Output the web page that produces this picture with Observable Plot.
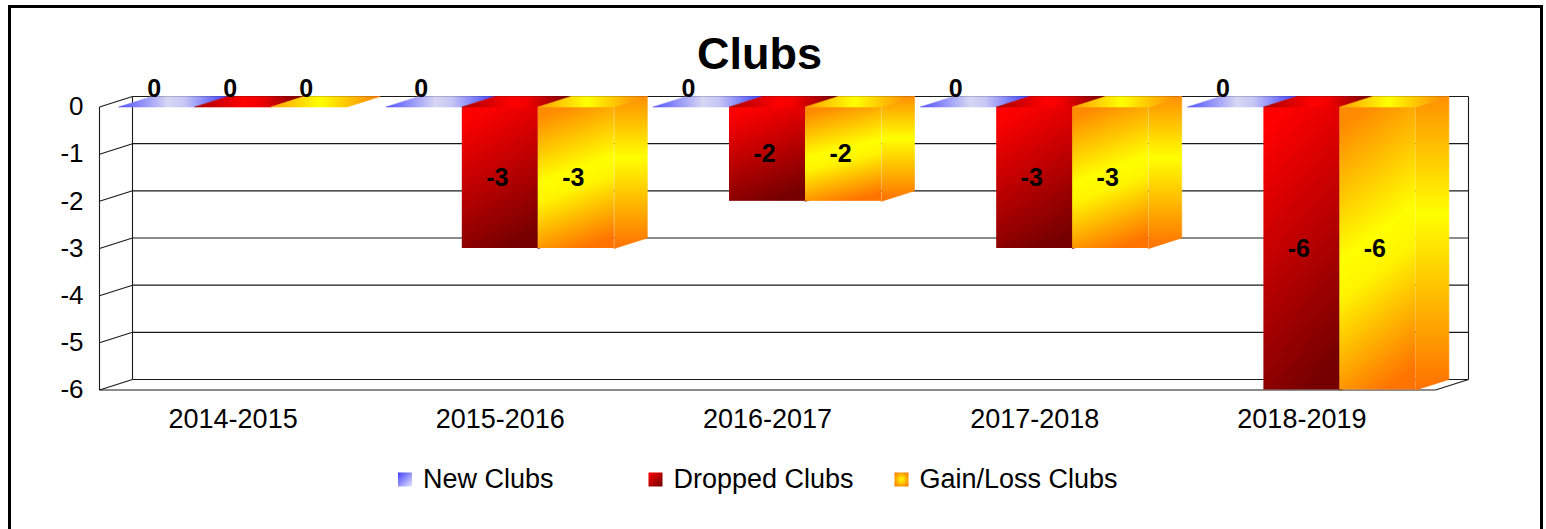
<!DOCTYPE html>
<html><head><meta charset="utf-8">
<script src="https://cdn.jsdelivr.net/npm/d3@7"></script>
<script src="https://cdn.jsdelivr.net/npm/@observablehq/plot@0.6"></script>
<style>
html,body{margin:0;padding:0;background:#fff;overflow:hidden}
#wrap{position:relative;width:1546px;height:529px}
#border{position:absolute;left:8px;top:5px;width:1535px;height:560px;border:3px solid #000;box-sizing:border-box;pointer-events:none}
#chart{position:absolute;left:0;top:0}
</style></head>
<body>
<svg width="0" height="0" style="position:absolute">
<defs>
<linearGradient id="gBlueTop" x1="0" y1="0" x2="1" y2="0">
 <stop offset="0" stop-color="#5252ff"/><stop offset="0.45" stop-color="#d6d6f4"/><stop offset="0.6" stop-color="#c6c6f6"/><stop offset="1" stop-color="#3c3cff"/>
</linearGradient>
<linearGradient id="gRedTop" x1="0" y1="0" x2="1" y2="0">
 <stop offset="0" stop-color="#a80000"/><stop offset="0.45" stop-color="#ff0000"/><stop offset="0.6" stop-color="#f00000"/><stop offset="1" stop-color="#780000"/>
</linearGradient>
<linearGradient id="gRedFront" x1="0.3" y1="0" x2="0.6" y2="1">
 <stop offset="0" stop-color="#ff0000"/><stop offset="1" stop-color="#760000"/>
</linearGradient>
<linearGradient id="gRedSide" x1="0" y1="0" x2="0" y2="1">
 <stop offset="0" stop-color="#c00000"/><stop offset="1" stop-color="#600000"/>
</linearGradient>
<linearGradient id="gYelFront" x1="0.4" y1="0" x2="0.6" y2="1">
 <stop offset="0" stop-color="#ff8c00"/><stop offset="0.45" stop-color="#ffff00"/><stop offset="0.58" stop-color="#fff400"/><stop offset="1" stop-color="#ff7400"/>
</linearGradient>
<linearGradient id="gYelSide" x1="0" y1="0" x2="0" y2="1">
 <stop offset="0" stop-color="#ff9000"/><stop offset="0.4" stop-color="#ffff00"/><stop offset="1" stop-color="#ff7000"/>
</linearGradient>
<linearGradient id="gYelTop" x1="0" y1="0" x2="1" y2="0">
 <stop offset="0" stop-color="#ffa000"/><stop offset="0.45" stop-color="#ffff00"/><stop offset="1" stop-color="#ff8000"/>
</linearGradient>
<linearGradient id="gBlueLeg" x1="0" y1="0" x2="1" y2="1">
 <stop offset="0" stop-color="#4040ff"/><stop offset="1" stop-color="#e4e4f8"/>
</linearGradient>
<linearGradient id="gRedLeg" x1="0" y1="0" x2="1" y2="1">
 <stop offset="0" stop-color="#ff0000"/><stop offset="1" stop-color="#700000"/>
</linearGradient>
<radialGradient id="gYelLeg" cx="0.5" cy="0.5" r="0.6">
 <stop offset="0" stop-color="#ffff00"/><stop offset="1" stop-color="#ff8000"/>
</radialGradient>
</defs>
</svg>
<div id="wrap"><div id="chart"></div><div id="border"></div></div>
<script>
// ---- data ----
const seasons = ["2014-2015", "2015-2016", "2016-2017", "2017-2018", "2018-2019"];
const newClubs = [0, 0, 0, 0, 0];
const droppedClubs = [0, -3, -2, -3, -6];
const gainLossClubs = [0, -3, -2, -3, -6];
const seriesNames = ["New Clubs", "Dropped Clubs", "Gain/Loss Clubs"];
const yTicks = [0, -1, -2, -3, -4, -5, -6];

// ---- layout ----
const seriesValues = [newClubs, droppedClubs, gainLossClubs];
const frontFill = ["url(#gBlueTop)", "url(#gRedFront)", "url(#gYelFront)"];
const topFill = ["url(#gBlueTop)", "url(#gRedTop)", "url(#gYelTop)"];
const sideFill = ["url(#gBlueTop)", "url(#gRedSide)", "url(#gYelSide)"];
const legendFill = ["url(#gBlueLeg)", "url(#gRedLeg)", "url(#gYelLeg)"];
const legendDx = [305.5, 556, 802];

const W = 1546, H = 529, mL = 99, mR = 111, mT = 106.5, mB = 139.5;
const X0 = -0.5, X1 = seasons.length - 0.5;
const Ymax = d3.max(yTicks), Ymin = d3.min(yTicks);
const pxPerX = (W - mL - mR) / (X1 - X0);
const pxPerY = (H - mT - mB) / (Ymax - Ymin);
const DX = 33 / pxPerX, DY = 10.5 / pxPerY;
const BW = 76 / pxPerX;

const rows = seasons.flatMap((s, i) => seriesValues.map((vals, k) => ({
  season: s, i, k, series: seriesNames[k], value: vals[i],
  x1: i + (k - 1.5) * BW, x2: i + (k - 0.5) * BW
})));

const poly = (pts, id) => pts.map(([x, y]) => ({x, y, id}));
const topPts = k => rows.filter(d => d.k === k).flatMap(d =>
  poly([[d.x1, 0], [d.x2, 0], [d.x2 + DX, DY], [d.x1 + DX, DY]], d.season));
const sidePts = k => rows.filter(d => d.k === k && d.value < 0).flatMap(d =>
  poly([[d.x2, 0], [d.x2 + DX, DY], [d.x2 + DX, d.value + DY], [d.x2, d.value]], d.season));
const face = (pts, fill) => Plot.line(pts, {x: "x", y: "y", z: "id", curve: "linear-closed", fill, stroke: fill, strokeWidth: 0.6});

const frameSegs = [
  {x1: X0, y1: Ymax, x2: X0, y2: Ymin},
  {x1: X0 + DX, y1: Ymax + DY, x2: X0 + DX, y2: Ymin + DY},
  {x1: X1 + DX, y1: Ymax + DY, x2: X1 + DX, y2: Ymin + DY},
  {x1: X0, y1: Ymin, x2: X1, y2: Ymin},
  {x1: X1, y1: Ymin, x2: X1 + DX, y2: Ymin + DY}
];

const marks = [
  // walls & grid
  Plot.link(yTicks, {x1: () => X0 + DX, x2: () => X1 + DX, y1: d => d + DY, y2: d => d + DY, stroke: "#1a1a1a", strokeWidth: 1.1}),
  Plot.link(yTicks, {x1: () => X0, x2: () => X0 + DX, y1: d => d, y2: d => d + DY, stroke: "#1a1a1a", strokeWidth: 1.1}),
  Plot.link(frameSegs, {x1: "x1", y1: "y1", x2: "x2", y2: "y2", stroke: "#1a1a1a", strokeWidth: 1.1}),
  // bars
  face(sidePts(1), sideFill[1]),
  face(sidePts(2), sideFill[2]),
  ...[0, 1, 2].map(k => Plot.rect(rows.filter(d => d.k === k && d.value < 0),
    {x1: "x1", x2: "x2", y1: () => 0, y2: "value", fill: frontFill[k]})),
  ...[0, 1, 2].map(k => face(topPts(k), topFill[k])),
  // value labels
  Plot.text(rows.filter(d => d.value === 0), {x: d => d.i + (d.k - 1) * BW, y: () => 0, text: d => `${d.value}`,
    dy: -18.5, dx: -3, fontWeight: "bold", fontSize: 25, lineAnchor: "middle"}),
  Plot.text(rows.filter(d => d.value < 0), {x: d => d.i + (d.k - 1) * BW, y: d => d.value / 2, text: d => `${d.value}`,
    dx: -3, fontWeight: "bold", fontSize: 25, lineAnchor: "middle"}),
  // axes
  Plot.axisY({ticks: yTicks, tickSize: 0, tickPadding: 16, tickFormat: d => `${d}`, fontSize: 26}),
  Plot.axisX({ticks: d3.range(seasons.length), tickSize: 0, tickPadding: 18.5, tickFormat: i => seasons[i], fontSize: 27}),
  // title
  Plot.text(["Clubs"], {frameAnchor: "top", lineAnchor: "middle", dy: -52, dx: -8, fontSize: 45, fontWeight: "bold"}),
  // legend
  ...seriesNames.flatMap((name, k) => [
    Plot.dot([name], {frameAnchor: "bottom-left", dx: legendDx[k], dy: 89.5, symbol: "square", r: 7.9, fill: legendFill[k], stroke: "none"}),
    Plot.text([name], {frameAnchor: "bottom-left", lineAnchor: "middle", dx: legendDx[k] + 18, dy: 89.5, textAnchor: "start", fontSize: 27})
  ])
];

const chart = Plot.plot({
  width: W, height: H,
  marginLeft: mL, marginRight: mR, marginTop: mT, marginBottom: mB,
  x: {domain: [X0, X1]},
  y: {domain: [Ymin, Ymax]},
  style: {fontFamily: "'Liberation Sans', Arial, sans-serif", background: "transparent", color: "#000"},
  marks
});
document.getElementById("chart").appendChild(chart);
</script>
</body></html>
